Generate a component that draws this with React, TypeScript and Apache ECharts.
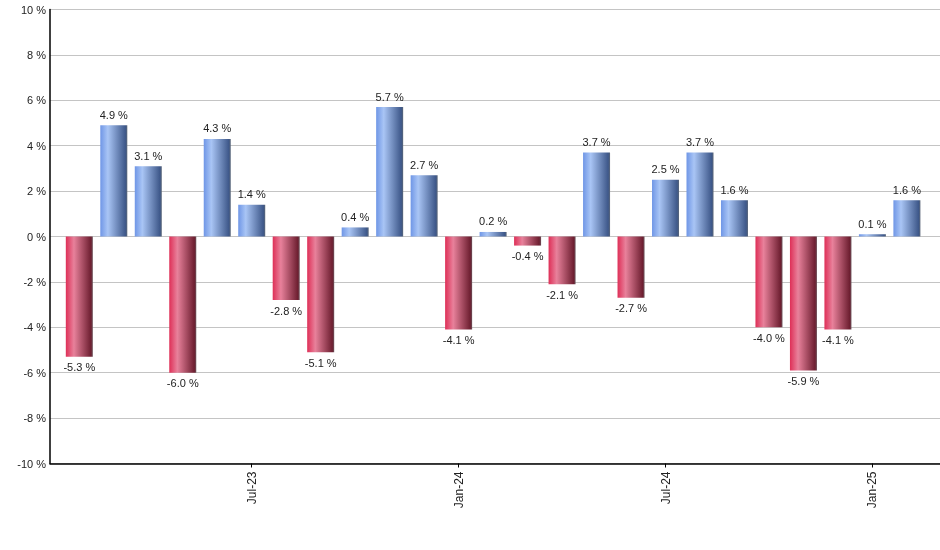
import React, { useEffect, useRef } from "react";
import * as echarts from "echarts";

const categories = [
  "Feb-23", "Mar-23", "Apr-23", "May-23", "Jun-23", "Jul-23", "Aug-23", "Sep-23", "Oct-23", "Nov-23", "Dec-23",
  "Jan-24", "Feb-24", "Mar-24", "Apr-24", "May-24", "Jun-24", "Jul-24", "Aug-24", "Sep-24", "Oct-24", "Nov-24", "Dec-24",
  "Jan-25", "Feb-25",
];
const returns = [
  -5.3, 4.9, 3.1, -6.0, 4.3, 1.4, -2.8, -5.1, 0.4, 5.7, 2.7,
  -4.1, 0.2, -0.4, -2.1, 3.7, -2.7, 2.5, 3.7, 1.6, -4.0, -5.9, -4.1,
  0.1, 1.6,
];
const shownTickLabels = ["Jul-23", "Jan-24", "Jul-24", "Jan-25"];

const blueGrad = new echarts.graphic.LinearGradient(0, 0, 1, 0, [
  { offset: 0, color: "#6f96e6" },
  { offset: 0.28, color: "#a9c5f5" },
  { offset: 0.93, color: "#3e588a" },
  { offset: 1, color: "#5a6678" },
]);
const redGrad = new echarts.graphic.LinearGradient(0, 0, 1, 0, [
  { offset: 0, color: "#de2f57" },
  { offset: 0.3, color: "#e8819b" },
  { offset: 0.93, color: "#6e1f31" },
  { offset: 1, color: "#6a5058" },
]);

export default function App() {
  const ref = useRef<HTMLDivElement>(null);
  useEffect(() => {
    if (!ref.current) return;
    const chart = echarts.init(ref.current, null, { renderer: "svg" });
    const tickIdx = categories
      .map((c, i) => (shownTickLabels.includes(c) ? i : -1))
      .filter((i) => i >= 0);
    chart.setOption({
      animation: false,
      grid: { left: 50, right: 0, top: 9.5, bottom: 86.5 },
      textStyle: { fontFamily: "Liberation Sans, Arial, sans-serif" },
      xAxis: {
        type: "value",
        min: -0.85,
        max: 24.96,
        splitLine: { show: false },
        axisLine: { show: true, onZero: false, lineStyle: { color: "#000", width: 1.5 } },
        axisTick: { show: true, length: 4, customValues: tickIdx, lineStyle: { color: "#000" } },
        axisLabel: {
          customValues: tickIdx,
          rotate: 90,
          margin: 8,
          fontSize: 12,
          color: "#222",
          formatter: (v: number) => categories[Math.round(v)] ?? "",
        },
      },
      yAxis: {
        type: "value",
        min: -10,
        max: 10,
        interval: 2,
        axisLine: { show: true, onZero: false, lineStyle: { color: "#000", width: 1.5 } },
        axisTick: { show: false },
        splitLine: { show: true, lineStyle: { color: "#c4c4c4", width: 1 } },
        axisLabel: { formatter: "{value} %", fontSize: 11, color: "#222", margin: 4 },
      },
      series: [
        {
          type: "bar",
          barWidth: 27,
          data: returns.map((v, i) => ({
            value: [i, v],
            itemStyle: { color: v >= 0 ? blueGrad : redGrad },
            label: { position: v >= 0 ? "top" : "bottom" },
          })),
          label: {
            show: true,
            distance: 5,
            fontSize: 11,
            color: "#222",
            formatter: (p: any) => p.value[1].toFixed(1) + " %",
          },
        },
      ],
    });
    return () => chart.dispose();
  }, []);
  return (
    <div
      ref={ref}
      style={{ position: "fixed", left: 0, top: 0, width: 940, height: 550 }}
    />
  );
}
